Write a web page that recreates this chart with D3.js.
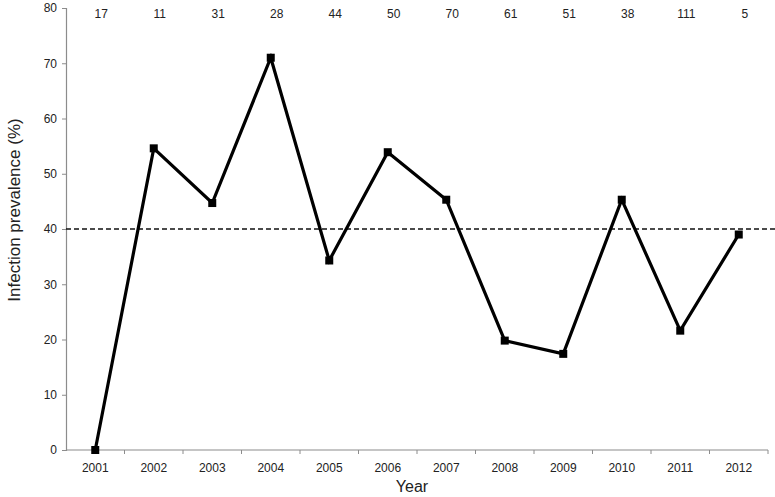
<!DOCTYPE html>
<html>
<head>
<meta charset="utf-8">
<script src="https://cdn.jsdelivr.net/npm/d3@7"></script>
<style>
  body { margin: 0; background: #fff; }
  svg { display: block; font-family: 'Liberation Sans', Arial, sans-serif; }
</style>
</head>
<body>
<svg id="chart" width="775" height="497"></svg>
<script>
// Data
const years = ['2001', '2002', '2003', '2004', '2005', '2006', '2007', '2008', '2009', '2010', '2011', '2012'];
const prevalence = [0, 54.6, 44.7, 71.0, 34.3, 53.9, 45.3, 19.8, 17.4, 45.3, 21.6, 39.0];
const sampleSizes = [17, 11, 31, 28, 44, 50, 70, 61, 51, 38, 111, 5];
const yTicks = [0, 10, 20, 30, 40, 50, 60, 70, 80];
const threshold = 40;

const svg = d3.select('#chart');
const margin = { left: 66, right: 7, top: 8, bottom: 47 };
const width = 775, height = 497;
const axisColor = '#8c8c8c';

const x = d3.scaleBand()
    .domain(years)
    .range([margin.left, width - margin.right])
    .padding(0);

const y = d3.scaleLinear()
    .domain([0, 80])
    .range([height - margin.bottom, margin.top]);

// Y axis
const yAxis = svg.append('g')
    .attr('transform', `translate(${margin.left},0)`)
    .call(d3.axisLeft(y).tickValues(yTicks).tickSize(4).tickPadding(5));
yAxis.select('.domain').attr('stroke', axisColor).attr('stroke-width', 1.2);
yAxis.selectAll('.tick line').attr('stroke', axisColor);
yAxis.selectAll('.tick text')
    .attr('fill', '#222')
    .style('font-size', '12px')
    .style('font-family', "'Liberation Sans', Arial, sans-serif");

// X axis: ticks at band boundaries
const xAxis = svg.append('g')
    .attr('transform', `translate(0,${y(0)})`);
xAxis.append('line')
    .attr('x1', x.range()[0]).attr('x2', x.range()[1])
    .attr('stroke', axisColor).attr('stroke-width', 1.2);
const boundaries = years.map(d => x(d)).concat([x.range()[1]]);
xAxis.selectAll('.xt')
    .data(boundaries.slice(1))
    .join('line')
    .attr('class', 'xt')
    .attr('x1', d => d).attr('x2', d => d)
    .attr('y1', 0).attr('y2', 4)
    .attr('stroke', axisColor);
xAxis.selectAll('.xl')
    .data(years)
    .join('text')
    .attr('class', 'xl')
    .attr('x', d => x(d) + x.bandwidth() / 2)
    .attr('y', 22)
    .attr('text-anchor', 'middle')
    .attr('fill', '#222')
    .style('font-size', '12px')
    .text(d => d);

// Axis titles
svg.append('text')
    .attr('x', 412)
    .attr('y', 492)
    .attr('text-anchor', 'middle')
    .attr('fill', '#222')
    .style('font-size', '16px')
    .text('Year');

svg.append('text')
    .attr('transform', 'translate(20,210) rotate(-90)')
    .attr('text-anchor', 'middle')
    .attr('fill', '#222')
    .style('font-size', '17px')
    .text('Infection prevalence (%)');

// Threshold dashed line
svg.append('line')
    .attr('x1', margin.left).attr('x2', width)
    .attr('y1', y(threshold)).attr('y2', y(threshold))
    .attr('stroke', '#111')
    .attr('stroke-width', 1.5)
    .attr('stroke-dasharray', '5,3');

// Prevalence line
const cx = (d, i) => x(years[i]) + x.bandwidth() / 2;
const line = d3.line()
    .x((d, i) => cx(d, i))
    .y(d => y(d));

svg.append('path')
    .datum(prevalence)
    .attr('d', line)
    .attr('fill', 'none')
    .attr('stroke', '#000')
    .attr('stroke-width', 3.2)
    .attr('stroke-linejoin', 'miter');

const ms = 8;
svg.selectAll('.marker')
    .data(prevalence)
    .join('rect')
    .attr('class', 'marker')
    .attr('x', (d, i) => cx(d, i) - ms / 2)
    .attr('y', d => y(d) - ms / 2)
    .attr('width', ms)
    .attr('height', ms)
    .attr('fill', '#000');

// Sample sizes across the top
svg.selectAll('.n')
    .data(sampleSizes)
    .join('text')
    .attr('class', 'n')
    .attr('x', (d, i) => cx(d, i) + 6)
    .attr('y', 18)
    .attr('text-anchor', 'middle')
    .attr('fill', '#222')
    .style('font-size', '12px')
    .text(d => d);
</script>
</body>
</html>
